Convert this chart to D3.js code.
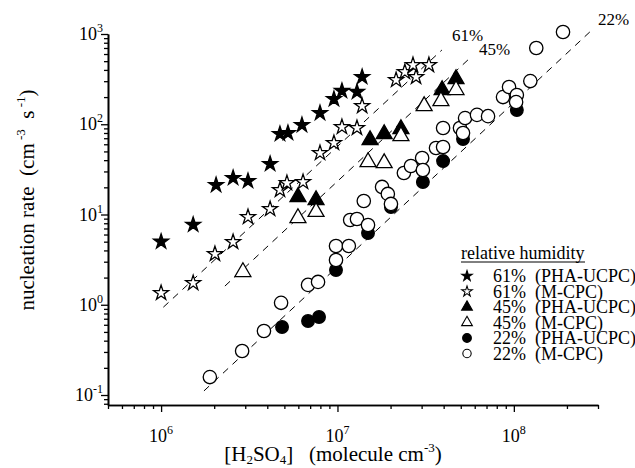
<!DOCTYPE html>
<html><head><meta charset="utf-8">
<script src="https://cdn.jsdelivr.net/npm/d3@7"></script>
<style>
body{margin:0;background:#fff}
svg text{font-family:"Liberation Serif","Times New Roman",serif;fill:#000}
</style>
</head><body>
<svg id="chart" width="635" height="468"></svg>
<script>
// ---------- data ----------
const rh61PHA_x = [1.0e6,1.52e6,2.05e6,2.56e6,3.11e6,4.15e6,4.72e6,5.24e6,6.29e6,7.96e6,9.55e6,1.06e7,1.29e7,1.38e7];
const rh61PHA_y = [5.0,7.7,21.2,25.4,23.5,36.3,78,80,98,133,190,234,228,334];

const rh61MCPC_x = [1.0e6,1.52e6,2.02e6,2.56e6,3.11e6,4.15e6,4.72e6,5.17e6,6.38e6,7.96e6,9.55e6,1.06e7,1.29e7,1.38e7,2.15e7,2.41e7,2.68e7,2.79e7,3.30e7];
const rh61MCPC_y = [1.35,1.74,3.65,4.96,9.38,11.5,18.7,22.3,22.9,48.0,62.0,93.2,90.9,159,309,379,453,334,453];

const rh45PHA_x = [5.97e6,7.56e6,1.53e7,1.84e7,2.29e7,3.92e7,4.70e7];
const rh45PHA_y = [15.6,14.5,66.9,78.0,88.6,240,317];

const rh45MCPC_x = [2.91e6,5.97e6,7.56e6,1.49e7,1.84e7,2.29e7,3.10e7,3.86e7,4.70e7];
const rh45MCPC_y = [2.31,9.15,10.7,38.2,37.2,74.1,159,181,240];

const rh22PHA_x = [4.85e6,6.81e6,7.86e6,9.81e6,1.49e7,2.01e7,3.05e7,3.97e7,5.15e7,1.04e8];
const rh22PHA_y = [0.567,0.661,0.732,2.43,6.24,12.1,22.9,39.1,68.6,144];

const rh22MCPC_x = [1.89e6,2.88e6,3.83e6,4.79e6,6.81e6,7.76e6,9.81e6,9.81e6,1.16e7,1.18e7,1.29e7,1.49e7,1.41e7,1.79e7,1.93e7,2.01e7,2.38e7,2.61e7,3.02e7,3.05e7,3.62e7,3.97e7,3.97e7,4.95e7,5.15e7,5.29e7,6.18e7,7.14e7,8.68e7,9.39e7,1.04e8,1.03e8,1.24e8,1.34e8,1.90e8];
const rh22MCPC_y = [0.158,0.307,0.512,1.05,1.66,1.79,3.13,4.48,4.48,8.69,8.91,7.65,14.1,20.2,16.9,13.1,28.8,34.5,42.3,31.1,54.5,56.0,90.9,90.9,80.0,117,127,123,200,259,211,176,301,700,1052];

// dashed reference lines (two end points each) and their labels
const lineNames   = ["61%","45%","22%"];
const lineX1 = [1.03e6, 2.30e6, 1.75e6];
const lineY1 = [0.94, 1.61, 0.111];
const lineX2 = [3.91e7, 5.64e7, 2.77e8];
const lineY2 = [665, 542, 1107];
const lineLabelX = [4.46e7, 6.35e7, 3.0e8];
const lineLabelY = [836, 585, 1258];

// ticks
const xMajorTicks = [1e6,1e7,1e8];
const xMajorExp   = ["6","7","8"];
const xMinorTicks = [5e5,6e5,7e5,8e5,9e5,2e6,3e6,4e6,5e6,6e6,7e6,8e6,9e6,2e7,3e7,4e7,5e7,6e7,7e7,8e7,9e7,2e8,3e8];
const yMajorTicks = [0.1,1,10,100,1000];
const yMajorExp   = ["-1","0","1","2","3"];
const yMinorTicks = [0.08,0.09,0.2,0.3,0.4,0.5,0.6,0.7,0.8,0.9,2,3,4,5,6,7,8,9,20,30,40,50,60,70,80,90,200,300,400,500,600,700,800,900];

const legendTitle = "relative humidity";
const legendLabels = ["61%  (PHA-UCPC)","61%  (M-CPC)","45%  (PHA-UCPC)","45%  (M-CPC)","22%  (PHA-UCPC)","22%  (M-CPC)"];

// ---------- drawing ----------
const svg = d3.select("#chart");
const x = d3.scaleLog().domain([5e5, 3e8]).range([108, 598]);
const y = d3.scaleLog().domain([0.0775, 1000]).range([405, 34]);

// axes
const gx = svg.append("g").attr("transform","translate(0,405)");
gx.call(d3.axisBottom(x).tickValues(xMinorTicks).tickSize(4).tickSizeOuter(0).tickFormat(""));
gx.append("g").call(d3.axisBottom(x).tickValues(xMajorTicks).tickSize(7).tickSizeOuter(0).tickFormat(""));
const gy = svg.append("g").attr("transform","translate(108,0)");
gy.call(d3.axisLeft(y).tickValues(yMinorTicks).tickSize(4).tickSizeOuter(0).tickFormat(""));
gy.append("g").call(d3.axisLeft(y).tickValues(yMajorTicks).tickSize(7).tickSizeOuter(0).tickFormat(""));
svg.selectAll(".domain").attr("stroke","#000").attr("stroke-width",1.6);
svg.selectAll(".tick line").attr("stroke","#000").attr("stroke-width",1.3);

// tick labels
xMajorTicks.forEach((v,i)=>{
  const t = svg.append("text").attr("x",x(v)).attr("y",442).attr("text-anchor","middle").attr("font-size",18);
  t.append("tspan").text("10");
  t.append("tspan").attr("font-size",12).attr("dy",-8).text(xMajorExp[i]);
});
yMajorTicks.forEach((v,i)=>{
  const t = svg.append("text").attr("x",103).attr("y",y(v)+6).attr("text-anchor","end").attr("font-size",18);
  t.append("tspan").text("10");
  t.append("tspan").attr("font-size",12).attr("dy",-8).text(yMajorExp[i]);
});

// axis titles
const xt = svg.append("text").attr("x",333).attr("y",461).attr("text-anchor","middle").attr("font-size",21);
xt.append("tspan").text("[H");
xt.append("tspan").attr("font-size",13).attr("dy",3).text("2");
xt.append("tspan").attr("dy",-3).text("SO");
xt.append("tspan").attr("font-size",13).attr("dy",3).text("4");
xt.append("tspan").attr("dy",-3).text("]\u00a0\u00a0\u00a0(molecule cm");
xt.append("tspan").attr("font-size",13).attr("dy",-9).text("-3");
xt.append("tspan").attr("dy",9).text(")");

const yt = svg.append("text").attr("transform","translate(34,200) rotate(-90)").attr("text-anchor","middle").attr("font-size",21);
yt.append("tspan").text("nucleation rate\u00a0\u00a0(cm");
yt.append("tspan").attr("font-size",13).attr("dy",-9).text("\u00a0-3");
yt.append("tspan").attr("dy",9).text("\u00a0\u00a0s");
yt.append("tspan").attr("font-size",13).attr("dy",-9).text("\u00a0-1");
yt.append("tspan").attr("dy",9).text(")");

// dashed lines
lineNames.forEach((n,i)=>{
  svg.append("line")
    .attr("x1",x(lineX1[i])).attr("y1",y(lineY1[i]))
    .attr("x2",x(lineX2[i])).attr("y2",y(lineY2[i]))
    .attr("stroke","#000").attr("stroke-width",1).attr("stroke-dasharray","7,6");
  svg.append("text").attr("x",x(lineLabelX[i])).attr("y",y(lineLabelY[i]))
    .attr("font-size",17).text(n);
});

// markers
const series = [
  {xs:rh61PHA_x, ys:rh61PHA_y, type:d3.symbolStar, size:70, fill:"#000"},
  {xs:rh61MCPC_x, ys:rh61MCPC_y, type:d3.symbolStar, size:70, fill:"#fff"},
  {xs:rh45PHA_x, ys:rh45PHA_y, type:d3.symbolTriangle, size:110, fill:"#000"},
  {xs:rh45MCPC_x, ys:rh45MCPC_y, type:d3.symbolTriangle, size:110, fill:"#fff"},
  {xs:rh22PHA_x, ys:rh22PHA_y, type:d3.symbolCircle, size:125, fill:"#000"},
  {xs:rh22MCPC_x, ys:rh22MCPC_y, type:d3.symbolCircle, size:140, fill:"#fff"}
];
series.forEach(s=>{
  const g = svg.append("g");
  g.selectAll("path").data(s.xs.map((v,i)=>[v,s.ys[i]])).join("path")
    .attr("d", d3.symbol().type(s.type).size(s.size))
    .attr("transform", d=>`translate(${x(d[0])},${y(d[1])})`)
    .attr("fill", s.fill).attr("stroke","#000").attr("stroke-width",1.3);
});

// legend
svg.append("text").attr("x",461).attr("y",259).attr("font-size",18).text(legendTitle);
svg.append("line").attr("x1",461).attr("x2",585).attr("y1",262).attr("y2",262).attr("stroke","#000").attr("stroke-width",1);
const legSizes = [34,34,50,50,60,55];
series.forEach((s,i)=>{
  const cy = 276 + i*15.5;
  svg.append("path").attr("d", d3.symbol().type(s.type).size(legSizes[i]))
    .attr("transform",`translate(467,${cy})`)
    .attr("fill", s.fill).attr("stroke","#000").attr("stroke-width",1.1);
  svg.append("text").attr("x",493).attr("y",cy+6).attr("font-size",18)
    .text(legendLabels[i].replace("  ","\u00a0\u00a0"));
});
</script>
</body></html>
